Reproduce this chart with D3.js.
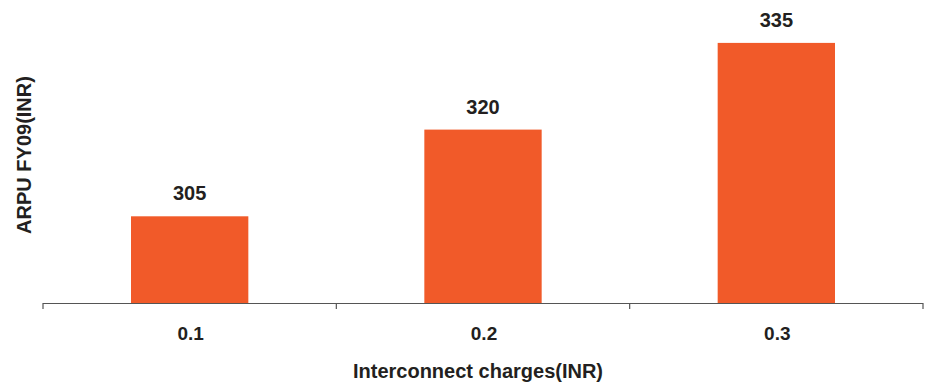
<!DOCTYPE html>
<html>
<head>
<meta charset="utf-8">
<script src="https://cdn.jsdelivr.net/npm/d3@7/dist/d3.min.js"></script>
<style>
  html, body { margin: 0; padding: 0; background: #ffffff; }
  svg { display: block; font-family: "Liberation Sans", Arial, Helvetica, sans-serif; }
</style>
</head>
<body>
<svg id="chart" width="926" height="383"></svg>
<script>
// Interconnect charge levels (INR) and resulting ARPU for FY09 (INR)
const categories = ["0.1", "0.2", "0.3"];
const arpuValues = [305, 320, 335];
const yDomain = [290, 340];

const width = 926, height = 383;
const margin = { left: 43, right: 3, top: 14, bottom: 80 };
const baseY = 303;

const svg = d3.select("#chart");

const x = d3.scaleBand()
  .domain(categories)
  .range([margin.left, width - margin.right])
  .paddingInner(0.6)
  .paddingOuter(0.3);

const y = d3.scaleLinear()
  .domain(yDomain)
  .range([baseY, margin.top]);

// bars
svg.append("g").selectAll("rect")
  .data(categories)
  .join("rect")
  .attr("x", d => x(d))
  .attr("width", x.bandwidth())
  .attr("y", (d, i) => y(arpuValues[i]))
  .attr("height", (d, i) => baseY - y(arpuValues[i]))
  .attr("fill", "#f15a29");

// value labels above bars
svg.append("g").selectAll("text")
  .data(categories)
  .join("text")
  .attr("x", d => x(d) + x.bandwidth() / 2)
  .attr("y", (d, i) => y(arpuValues[i]) - 16)
  .attr("text-anchor", "middle")
  .attr("font-size", 20)
  .attr("font-weight", "bold")
  .attr("fill", "#231f20")
  .text((d, i) => arpuValues[i]);

// x axis: line with ticks at category boundaries
const axisG = svg.append("g");
axisG.append("line")
  .attr("x1", margin.left).attr("x2", width - margin.right)
  .attr("y1", baseY + 0.5).attr("y2", baseY + 0.5)
  .attr("stroke", "#555555").attr("stroke-width", 1.2);

const step = x.step();
const boundaries = d3.range(categories.length + 1).map(i => margin.left + i * step);
axisG.selectAll("line.tick")
  .data(boundaries)
  .join("line")
  .attr("class", "tick")
  .attr("x1", d => d).attr("x2", d => d)
  .attr("y1", baseY).attr("y2", baseY + 6)
  .attr("stroke", "#555555").attr("stroke-width", 1.2);

axisG.selectAll("text")
  .data(categories)
  .join("text")
  .attr("x", d => x(d) + x.bandwidth() / 2 + 1)
  .attr("y", 340)
  .attr("text-anchor", "middle")
  .attr("font-size", 19)
  .attr("font-weight", "bold")
  .attr("fill", "#231f20")
  .text(d => d);

// axis titles
svg.append("text")
  .attr("x", 478)
  .attr("y", 378)
  .attr("text-anchor", "middle")
  .attr("font-size", 20)
  .attr("font-weight", "bold")
  .attr("fill", "#231f20")
  .text("Interconnect charges(INR)");

svg.append("text")
  .attr("transform", "translate(31,155) rotate(-90)")
  .attr("text-anchor", "middle")
  .attr("font-size", 20)
  .attr("font-weight", "bold")
  .attr("fill", "#231f20")
  .text("ARPU FY09(INR)");
</script>
</body>
</html>
